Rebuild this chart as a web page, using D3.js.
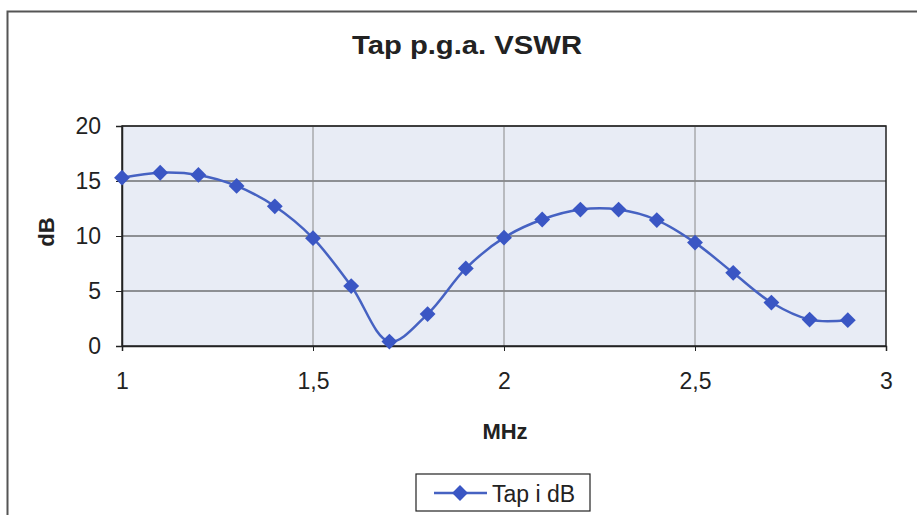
<!DOCTYPE html>
<html>
<head>
<meta charset="utf-8">
<script src="https://cdn.jsdelivr.net/npm/d3@7"></script>
<style>
  body { margin: 0; background: #fff; }
  svg { font-family: "Liberation Sans", Arial, sans-serif; }
</style>
</head>
<body>
<div id="chart"></div>
<script>
// chart size
const FRAME_WIDTH = 917;
const FRAME_HEIGHT = 515;
const MARGINS = {left: 122, right: 31, top: 126, bottom: 169};

const VIS_WIDTH = FRAME_WIDTH - MARGINS.left - MARGINS.right;
const VIS_HEIGHT = FRAME_HEIGHT - MARGINS.top - MARGINS.bottom;

// data
const mhz = [1.0, 1.1, 1.2, 1.3, 1.4, 1.5, 1.6, 1.7, 1.8, 1.9, 2.0,
             2.1, 2.2, 2.3, 2.4, 2.5, 2.6, 2.7, 2.8, 2.9];
const tapDb = [15.3, 15.75, 15.55, 14.55, 12.7, 9.8, 5.45, 0.4, 2.9, 7.05, 9.85,
               11.5, 12.4, 12.4, 11.45, 9.4, 6.65, 3.95, 2.4, 2.35];
const xTicks = [1, 1.5, 2, 2.5, 3];
const yTicks = [0, 5, 10, 15, 20];

const points = mhz.map((m, i) => ({x: m, y: tapDb[i]}));

const svg = d3.select('#chart')
    .append('svg')
        .attr('width', FRAME_WIDTH)
        .attr('height', FRAME_HEIGHT);

// outer chart frame (top and left edges visible)
svg.append('path')
    .attr('d', 'M7.5,' + FRAME_HEIGHT + 'V11.5H' + FRAME_WIDTH)
    .attr('fill', 'none')
    .attr('stroke', '#555')
    .attr('stroke-width', 2);

const FRAME1 = svg.append('g')
    .attr('transform', 'translate(' + MARGINS.left + ',' + MARGINS.top + ')');

const xScale = d3.scaleLinear().domain([1, 3]).range([0, VIS_WIDTH]);
const yScale = d3.scaleLinear().domain([0, 20]).range([VIS_HEIGHT, 0]);

// plot background
FRAME1.append('rect')
    .attr('width', VIS_WIDTH)
    .attr('height', VIS_HEIGHT)
    .attr('fill', '#e8ecf5');

// gridlines
FRAME1.append('g')
    .selectAll('line')
    .data(yTicks.slice(1))
    .enter()
    .append('line')
        .attr('x1', 0).attr('x2', VIS_WIDTH)
        .attr('y1', d => yScale(d)).attr('y2', d => yScale(d))
        .attr('stroke', '#333')
        .attr('stroke-width', 1.2);

FRAME1.append('g')
    .selectAll('line')
    .data(xTicks.slice(1, -1))
    .enter()
    .append('line')
        .attr('x1', d => xScale(d)).attr('x2', d => xScale(d))
        .attr('y1', 0).attr('y2', VIS_HEIGHT)
        .attr('stroke', '#888')
        .attr('stroke-width', 1);

// plot border
FRAME1.append('rect')
    .attr('width', VIS_WIDTH)
    .attr('height', VIS_HEIGHT)
    .attr('fill', 'none')
    .attr('stroke', '#222')
    .attr('stroke-width', 1.5);

// axes
const xAxis = FRAME1.append('g')
    .attr('transform', 'translate(0,' + VIS_HEIGHT + ')')
    .call(d3.axisBottom(xScale)
        .tickValues(xTicks)
        .tickSize(5)
        .tickPadding(22)
        .tickFormat(d => String(d).replace('.', ',')));

const yAxis = FRAME1.append('g')
    .call(d3.axisLeft(yScale)
        .tickValues(yTicks)
        .tickSize(6)
        .tickPadding(15));

[xAxis, yAxis].forEach(a => {
    a.attr('font-size', 23).attr('font-family', '"Liberation Sans", Arial, sans-serif');
    a.select('.domain').attr('stroke', '#222').attr('stroke-width', 1.5);
    a.selectAll('.tick line').attr('stroke', '#222');
    a.selectAll('text').attr('fill', '#222');
});

// line and markers
const lineColor = '#4662c2';
const markerColor = '#3a56c4';

FRAME1.append('path')
    .datum(points)
    .attr('fill', 'none')
    .attr('stroke', lineColor)
    .attr('stroke-width', 2.5)
    .attr('d', d3.line()
        .x(d => xScale(d.x))
        .y(d => yScale(d.y))
        .curve(d3.curveCatmullRom.alpha(0.5)));

const diamond = d3.symbol().type(d3.symbolDiamond2).size(160);

FRAME1.append('g')
    .selectAll('path')
    .data(points)
    .enter()
    .append('path')
        .attr('d', diamond)
        .attr('transform', d => 'translate(' + xScale(d.x) + ',' + yScale(d.y) + ')')
        .attr('fill', markerColor);

// titles
svg.append('text')
    .attr('x', 467).attr('y', 54)
    .attr('text-anchor', 'middle')
    .attr('font-size', 26)
    .attr('font-weight', 'bold')
    .attr('fill', '#222')
    .attr('textLength', 230)
    .attr('lengthAdjust', 'spacingAndGlyphs')
    .text('Tap p.g.a. VSWR');

svg.append('text')
    .attr('x', 505).attr('y', 439)
    .attr('text-anchor', 'middle')
    .attr('font-size', 22)
    .attr('font-weight', 'bold')
    .attr('fill', '#222')
    .text('MHz');

svg.append('text')
    .attr('transform', 'translate(54,232) rotate(-90)')
    .attr('text-anchor', 'middle')
    .attr('font-size', 22)
    .attr('font-weight', 'bold')
    .attr('fill', '#222')
    .text('dB');

// legend
const legend = svg.append('g').attr('transform', 'translate(416,474)');
legend.append('rect')
    .attr('width', 174).attr('height', 37)
    .attr('fill', '#fff')
    .attr('stroke', '#222')
    .attr('stroke-width', 1.2);
legend.append('line')
    .attr('x1', 18).attr('x2', 71)
    .attr('y1', 19).attr('y2', 19)
    .attr('stroke', lineColor)
    .attr('stroke-width', 2.5);
legend.append('path')
    .attr('d', diamond)
    .attr('transform', 'translate(44,19)')
    .attr('fill', markerColor);
legend.append('text')
    .attr('x', 76).attr('y', 28)
    .attr('font-size', 23)
    .attr('fill', '#222')
    .text('Tap i dB');
</script>
</body>
</html>
